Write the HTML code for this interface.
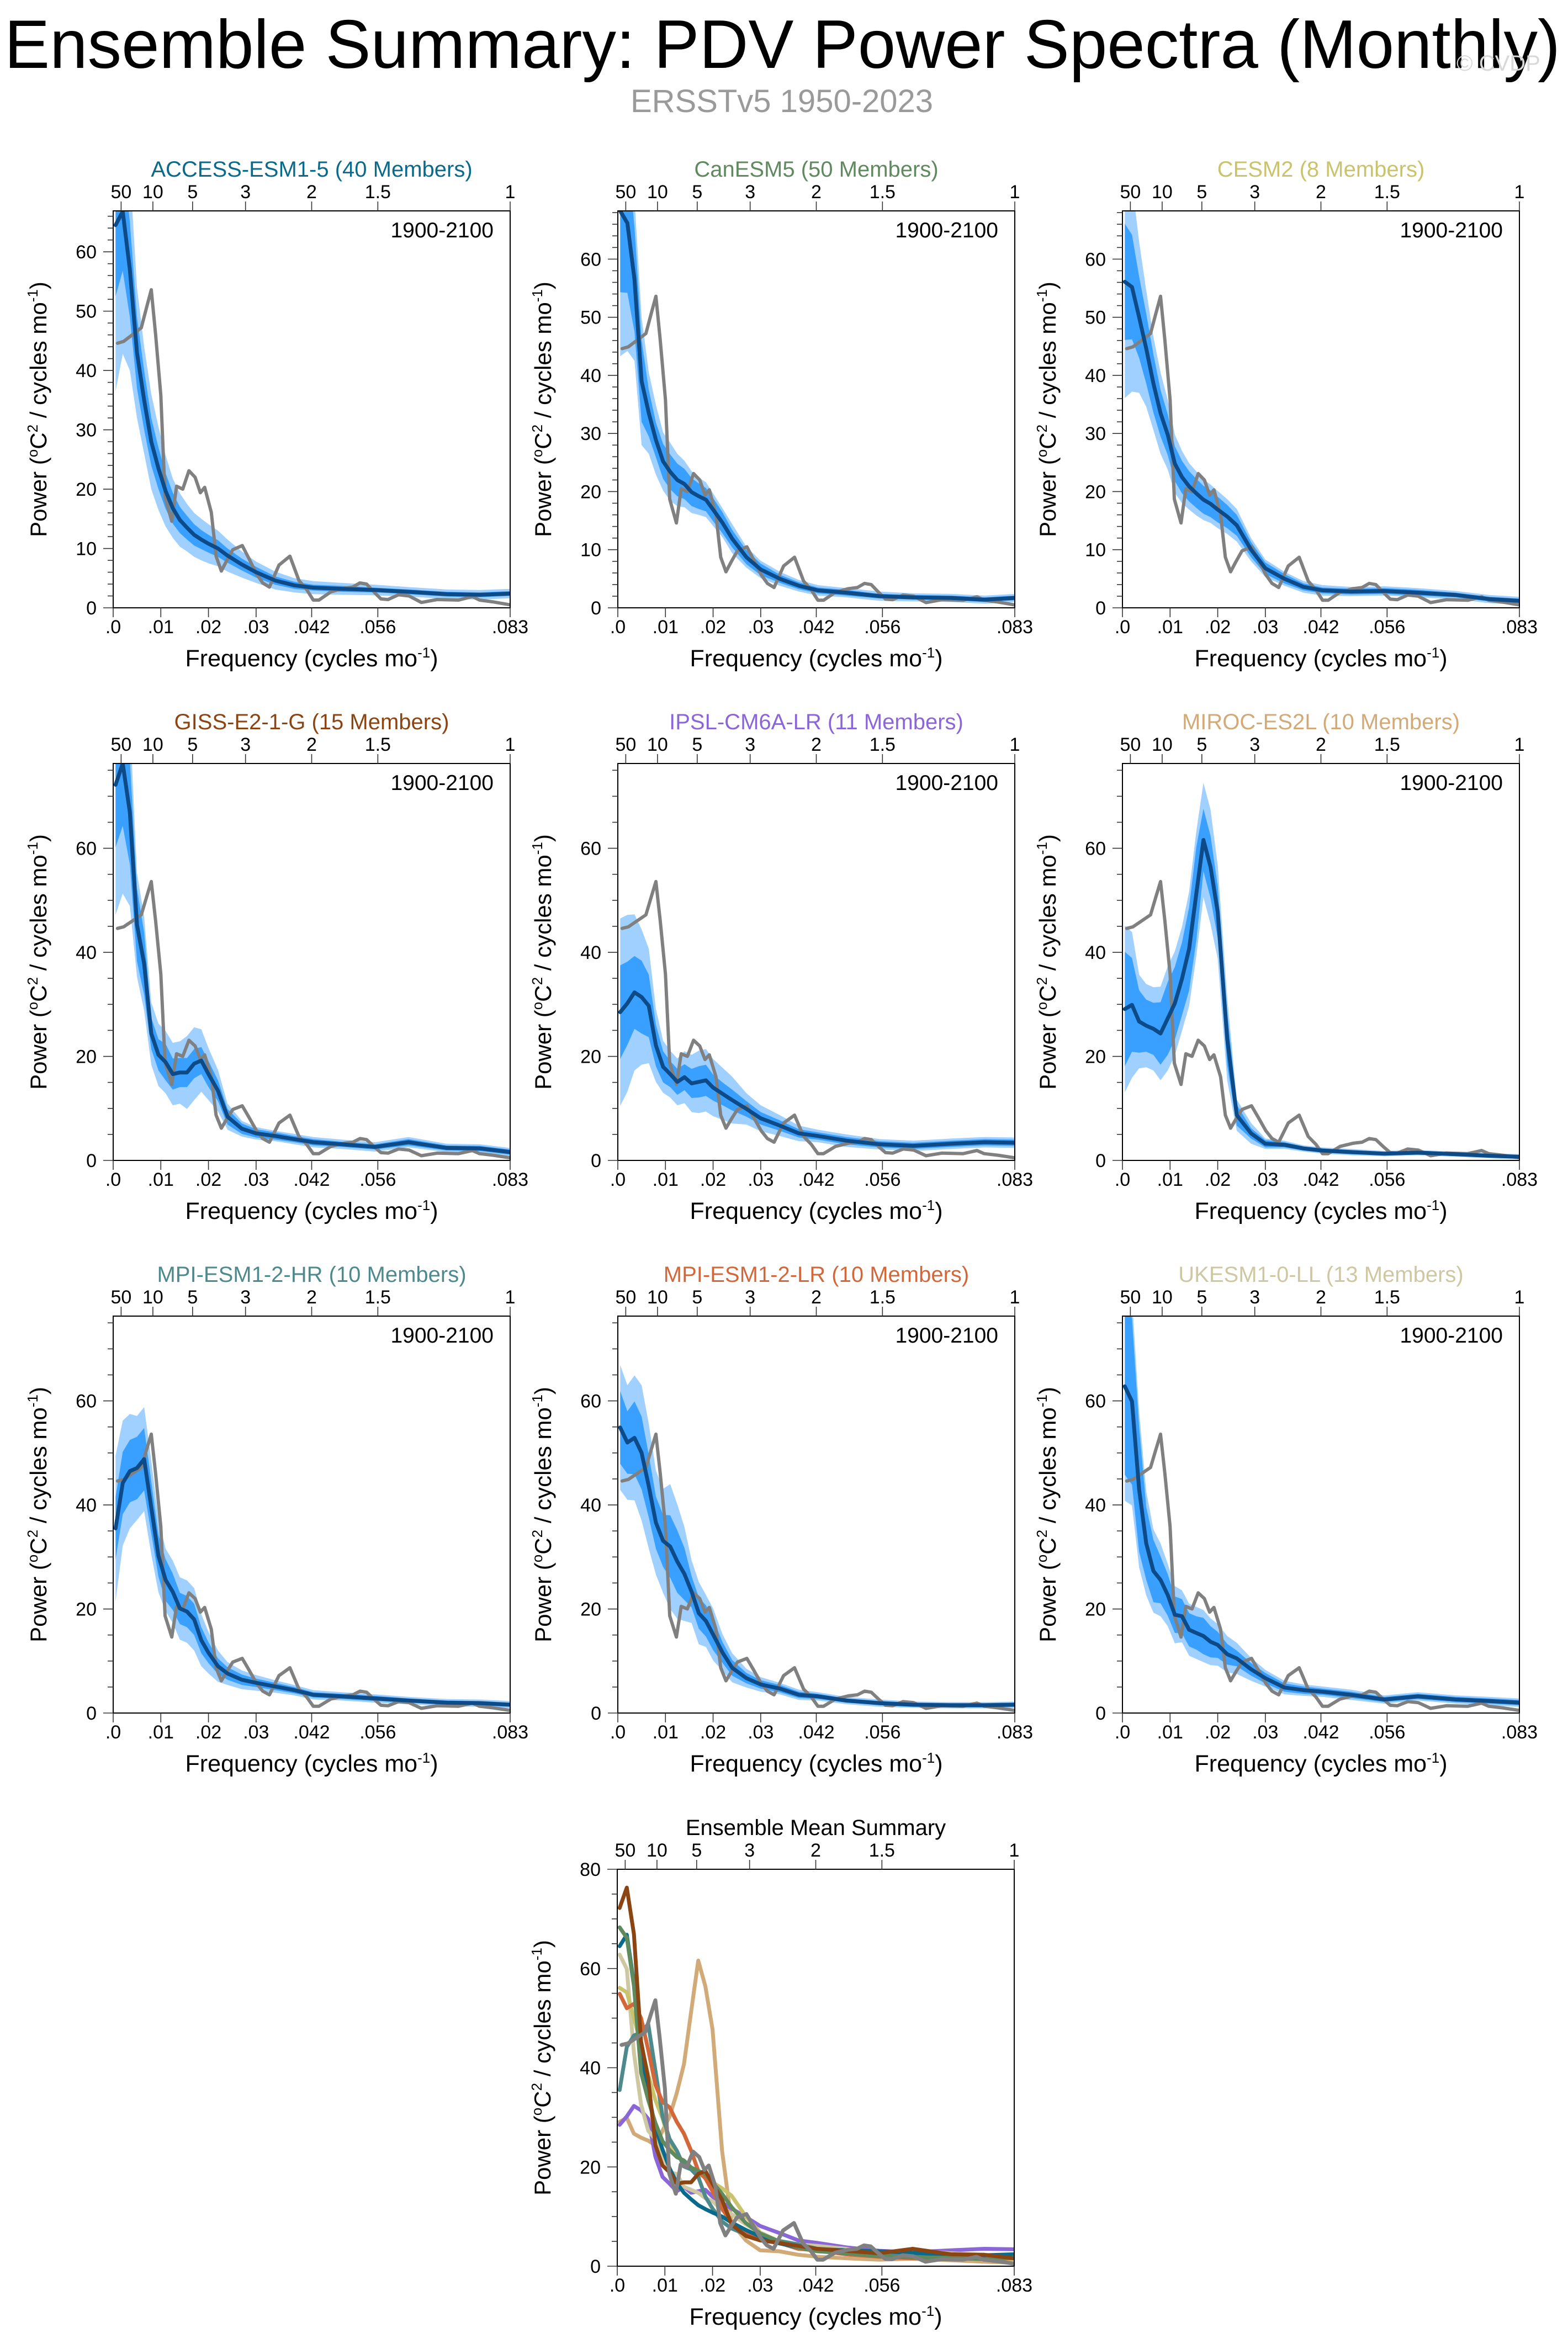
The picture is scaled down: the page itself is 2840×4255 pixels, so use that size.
<!DOCTYPE html>
<html><head><meta charset="utf-8"><title>Ensemble Summary: PDV Power Spectra (Monthly)</title>
<style>
html,body{margin:0;padding:0;background:#fff;}
svg{display:block;font-family:"Liberation Sans",Arial,sans-serif;}
</style></head>
<body>
<svg id="fig" xmlns="http://www.w3.org/2000/svg" width="2840" height="4255" viewBox="0 0 2840 4255">
<rect x="0" y="0" width="2840" height="4255" fill="#fff"/>
<text x="8" y="123" font-size="124" textLength="2818" lengthAdjust="spacingAndGlyphs" fill="#000">Ensemble Summary: PDV Power Spectra (Monthly)</text>
<text x="2714" y="128" font-size="40" text-anchor="middle" fill="#d8d8d8">© CVDP</text>
<text x="1416" y="203" font-size="58" text-anchor="middle" fill="#9a9a9a">ERSSTv5 1950-2023</text>
<g id="panels"></g>
</svg>
<script>
// ---- data ----
const freqGrid=[0.0005,0.002,0.0035,0.005,0.0065,0.008,0.0095,0.011,0.0125,0.014,0.0155,0.017,0.0185,0.02,0.022,0.024,0.027,0.03,0.034,0.038,0.042,0.048,0.055,0.062,0.07,0.077,0.0833];
const obsFreq=[0.0009,0.0022,0.0059,0.0070,0.0080,0.0089,0.0100,0.0109,0.0123,0.0133,0.0146,0.0159,0.0172,0.0183,0.0192,0.0206,0.0216,0.0227,0.0238,0.0251,0.0271,0.0285,0.0301,0.0314,0.0328,0.0348,0.0371,0.0390,0.0406,0.0420,0.0432,0.0457,0.0484,0.0503,0.0518,0.0532,0.0547,0.0562,0.0577,0.0599,0.0621,0.0647,0.0680,0.0725,0.0754,0.0769,0.0798,0.0833];
const obsPower=[44.6,44.9,47.2,50.6,53.6,46.1,35.8,18.7,14.6,20.5,20.0,23.1,22.0,19.4,20.3,16.1,8.7,6.2,7.9,9.8,10.5,8.3,5.7,4.2,3.5,7.2,8.7,4.6,3.1,1.3,1.3,2.7,3.3,3.5,4.2,4.0,2.7,1.5,1.4,2.2,2.0,0.9,1.4,1.3,1.9,1.3,1.0,0.5];

const accessMean=[64.5,66.8,57,43,35,28,23.5,19.7,16.8,14.8,13.5,12.3,11.5,10.8,10,8.8,7.3,6,4.6,3.8,3.4,3.2,3.0,2.7,2.3,2.2,2.4];
const accessInner=[12,10,8,6,5,4,3.5,3,2.6,2.2,2,1.8,1.6,1.5,1.4,1.2,1,0.9,0.7,0.6,0.5,0.5,0.4,0.4,0.4,0.4,0.4];
const accessOuter=[28,24,17,11,9,8,7,6,5,4.5,4,3.7,3.5,3.3,3,2.7,2.2,1.8,1.5,1.2,1.1,1,0.9,0.8,0.8,0.8,0.8];

const canMean=[68.3,66.2,56.5,39,33.5,28.9,25.2,23.4,22,21.3,19.9,19.2,18.6,16.9,14.6,11.9,8.7,6.6,5,3.8,3,2.6,2,1.8,1.7,1.4,1.7];
const canInner=[14,12,9,7,4,3,3,3,2.8,2.6,2.4,2.2,2,2,1.8,1.5,1.2,1,0.7,0.6,0.5,0.5,0.4,0.4,0.4,0.4,0.4];
const canOuter=[25,22,14,11,7,6,5,5,4.5,4,3.6,3.2,3,2.8,2.5,2.5,1.8,1.5,1.2,1,0.9,0.8,0.8,0.7,0.7,0.7,0.7];

const cesmMean=[56.1,55.2,50,44.6,38.6,33.5,29.8,24.8,22.5,20.9,19.7,18.6,17.9,16.9,15.7,14.2,10,6.8,5,3.6,3,2.8,2.9,2.6,2.2,1.5,1.2];
const cesmInner=[10,9,7,6,5,4,3.5,3,2.8,2.6,2.5,2.4,2.3,2.2,2,1.8,1.3,1,0.8,0.6,0.5,0.5,0.5,0.5,0.4,0.4,0.4];
const cesmOuter=[20,18,13,10,8,7,6,5,4.5,4,3.8,3.5,3.3,3.2,3,2.8,2,1.5,1.2,1,0.9,0.8,0.8,0.8,0.7,0.7,0.7];

const gissMean=[72.2,76.3,66.9,45.3,37.8,24.4,20.3,18.9,16.6,16.9,16.9,18.6,19.2,16.6,13.4,8.4,6.1,5.2,4.7,4.1,3.5,3.1,2.6,3.5,2.4,2.3,1.6];
const gissInner=[12,12,10,7,6,3,3,3.5,3,2.8,2.8,2.8,2.6,2.5,2,1.5,1,0.8,0.7,0.6,0.6,0.5,0.5,0.6,0.5,0.5,0.5];
const gissOuter=[25,25,18,10,9,6,6,6,6,6,7,7,6,5,4,2.5,1.5,1.2,1,1,1,0.9,0.9,1,0.8,0.8,0.8];

const ipslMean=[28.5,30.2,32.3,31.4,29.7,22.1,18,16.6,15.1,16,14.8,15.1,15.4,14,12.8,11.6,9.9,8.1,6.7,5.2,4.7,3.8,3.1,2.8,3.2,3.5,3.4];
const ipslInner=[9,8,7,7,6,4,3,2.5,2.5,2.5,2.8,3,3,2.5,2.2,2,1.5,1.2,1,0.8,0.7,0.7,0.6,0.6,0.6,0.6,0.6];
const ipslOuter=[18,17,15,13,11,7,5,4.5,4.5,5,5.5,6,6,5.5,5,4.5,3,2.5,2,1.5,1.2,1.2,1,1,1,1,1];

const mirocMean=[29.1,29.9,26.7,25.9,25.3,24.4,27.3,30.2,34.9,40.7,51.2,61.6,56.4,47.7,23.3,8.7,5.2,3.2,3,2.3,1.9,1.6,1.3,1.5,1.2,0.9,0.7];
const mirocInner=[11,9,6,5,5,6,7,7,7,8,9,6,6,5,5,2,1,0.7,0.5,0.4,0.4,0.4,0.3,0.4,0.3,0.3,0.3];
const mirocOuter=[16,14,9,8,8,9,10,10,10,11,12,11,11,9,8,3,2,1,0.8,0.6,0.6,0.6,0.5,0.5,0.5,0.5,0.5];

const mpihrMean=[35.5,44.2,46.5,47.1,48.8,39.5,30.2,25.6,23.3,20.1,19.5,18,14,11.6,9,7.6,6.4,5.8,5.1,4.4,3.5,3.2,2.8,2.4,2,1.9,1.6];
const mpihrInner=[6,6,6,6,6,5,4,4,3.5,3,3,3,2.5,2,1.5,1.2,1,0.8,0.7,0.6,0.5,0.5,0.5,0.4,0.4,0.4,0.4];
const mpihrOuter=[14,12,11,10,10,9,7,6,6,6,6,6,5,4,3,2.2,1.8,1.5,1.2,1,0.9,0.8,0.8,0.7,0.7,0.7,0.7];

const mpilrMean=[54.9,52,52.9,50,43.6,36.6,33.1,32,29.1,26.7,23.3,19.2,17.7,15.1,11.6,8.7,6.7,5.5,4.7,3.5,3.2,2.4,1.9,1.6,1.5,1.5,1.6];
const mpilrInner=[7,6,7,7,6,5,5,6,6,5,3,3,3,3,2,1.5,1,0.8,0.7,0.6,0.5,0.4,0.4,0.4,0.4,0.4,0.4];
const mpilrOuter=[12,11,12,13,12,10,10,12,11,9,6,6,5,5,3.5,2.8,1.8,1.4,1.1,1,0.8,0.7,0.7,0.6,0.6,0.6,0.6];

const ukesmMean=[62.8,59.9,43,32.6,27.3,25.6,22.7,18.9,18.6,16,15.4,14.8,13.7,13.1,11.3,10.5,8.4,6.7,4.9,4.4,4.1,3.5,2.6,3.2,2.6,2.3,2.0];
const ukesmInner=[17,16,12,7,6,4.5,4,3.5,3.3,3.2,3.2,3.5,3,2.5,2,1.5,1.2,1,0.8,0.7,0.6,0.6,0.5,0.5,0.5,0.5,0.5];
const ukesmOuter=[22,20,15,10,8,7,6,5.5,5,5,5,5,4.5,4,3.5,3,2.2,1.6,1.3,1.1,1,1,0.8,0.8,0.8,0.8,0.8];

const bottomTickValues=[0,0.01,0.02,0.03,1/24,1/18,1/12];
const bottomTickLabels=[".0",".01",".02",".03",".042",".056",".083"];
const periodYears=[50,10,5,3,2,1.5,1];
const periodLabels=["50","10","5","3","2","1.5","1"];

// ---- drawing ----
const NS="http://www.w3.org/2000/svg";
const root=document.getElementById('panels');
const FMAX=1/12, W=719, H=719;
function mk(tag,attrs,parent){const e=document.createElementNS(NS,tag);for(const k in attrs)e.setAttribute(k,attrs[k]);(parent||root).appendChild(e);return e;}
let clipId=0;

function panel(p){
  const g=mk('g',{});
  
  
  const x0=p.x,y0=p.y;
  const X=f=>x0+f/FMAX*W;
  const Y=v=>y0+H-v/p.ymax*H;
  const cid='clip'+(clipId++);
  const cp=mk('clipPath',{id:cid},g);mk('rect',{x:x0,y:y0,width:W,height:H},cp);
  const plot=mk('g',{'clip-path':'url(#'+cid+')'},g);
  
  
  if(p.mean&&!p.series){
    const band=(hw,color,nm)=>{
      let up=[],lo=[];
      for(let i=0;i<freqGrid.length;i++){up.push(X(freqGrid[i]).toFixed(1)+','+Y(p.mean[i]+hw[i]).toFixed(1));lo.push(X(freqGrid[i]).toFixed(1)+','+Y(Math.max(0,p.mean[i]-hw[i])).toFixed(1));}
      const pg=mk('polygon',{points:up.concat(lo.reverse()).join(' '),fill:color},plot);
      
      
    };
    band(p.outer,'#9fd0ff',p.name+'-outer-band');
    band(p.inner,'#3aa0ff',p.name+'-inner-band');
    const ob=mk('polyline',{points:obsFreq.map((f,i)=>X(f).toFixed(1)+','+Y(obsPower[i]).toFixed(1)).join(' '),fill:'none',stroke:'#808080','stroke-width':6,'stroke-linejoin':'round','stroke-linecap':'round'},plot);
    
    
    const ml=mk('polyline',{points:freqGrid.map((f,i)=>X(f).toFixed(1)+','+Y(p.mean[i]).toFixed(1)).join(' '),fill:'none',stroke:'#0c4a88','stroke-width':7,'stroke-linejoin':'round','stroke-linecap':'round'},plot);
    
    
  }
  if(p.series){
    p.series.forEach(s=>{
      const l=mk('polyline',{points:freqGrid.map((f,i)=>X(f).toFixed(1)+','+Y(s.mean[i]).toFixed(1)).join(' '),fill:'none',stroke:s.color,'stroke-width':7,'stroke-linejoin':'round','stroke-linecap':'round'},plot);
      
      
    });
    const ob=mk('polyline',{points:obsFreq.map((f,i)=>X(f).toFixed(1)+','+Y(obsPower[i]).toFixed(1)).join(' '),fill:'none',stroke:'#808080','stroke-width':7,'stroke-linejoin':'round','stroke-linecap':'round'},plot);
    
    
  }
  // frame
  const fr=mk('rect',{x:x0,y:y0,width:W,height:H,fill:'none',stroke:'#000','stroke-width':2},g);
  
  
  // y ticks
  for(let v=0;v<=p.ymax+1e-6;v+=p.minor){
    const isMaj=Math.abs(v/p.major-Math.round(v/p.major))<1e-6;
    mk('line',{x1:x0,x2:x0-(isMaj?18:10),y1:Y(v),y2:Y(v),stroke:'#333','stroke-width':1.6},g);
    if(isMaj){const t=mk('text',{x:x0-30,y:Y(v)+12,'font-size':34,'text-anchor':'end',fill:'#000'},g);t.textContent=String(Math.round(v));
      
      }
  }
  // bottom ticks
  bottomTickValues.forEach((f,i)=>{
    mk('line',{x1:X(f),x2:X(f),y1:y0+H,y2:y0+H+17,stroke:'#333','stroke-width':1.6},g);
    const t=mk('text',{x:X(f),y:y0+H+46,'font-size':34,'text-anchor':'middle',fill:'#000'},g);t.textContent=bottomTickLabels[i];
    
    
  });
  // top ticks
  periodYears.forEach((yr,i)=>{
    const f=1/(yr*12);
    mk('line',{x1:X(f),x2:X(f),y1:y0,y2:y0-17,stroke:'#333','stroke-width':1.6},g);
    const t=mk('text',{x:X(f),y:y0-23,'font-size':34,'text-anchor':'middle',fill:'#000'},g);t.textContent=periodLabels[i];
    
    
  });
  // titles
  const tt=mk('text',{x:x0+W/2,y:y0-62,'font-size':40,'text-anchor':'middle',fill:p.color},g);tt.textContent=p.title;
  
  
  if(p.years){const yt=mk('text',{x:x0+W-30,y:y0+48,'font-size':39,'text-anchor':'end',fill:'#000'},g);yt.textContent='1900-2100';
    
    }
  const xt=mk('text',{x:x0+W/2,y:y0+H+106,'font-size':43,'text-anchor':'middle',fill:'#000'},g);
  xt.innerHTML='Frequency (cycles mo<tspan dy="-16" font-size="26">-1</tspan><tspan dy="16">)</tspan>';
  
  
  const cx=x0-121, cy=y0+H/2;
  const yt2=mk('text',{x:cx,y:cy,'font-size':42,'text-anchor':'middle',fill:'#000',transform:'rotate(-90 '+cx+' '+cy+')'},g);
  yt2.innerHTML='Power (<tspan dy="-16" font-size="26">o</tspan><tspan dy="16">C</tspan><tspan dy="-16" font-size="26">2</tspan><tspan dy="16"> / cycles mo</tspan><tspan dy="-16" font-size="26">-1</tspan><tspan dy="16">)</tspan>';
  
  
}

const C=[205,1119,2033], R=[382,1383,2384];
const models=[
 {name:'access-esm1-5',title:'ACCESS-ESM1-5 (40 Members)',color:'#0a6a8c',mean:accessMean,inner:accessInner,outer:accessOuter,ymax:66.9,major:10,minor:2,x:C[0],y:R[0]},
 {name:'canesm5',title:'CanESM5 (50 Members)',color:'#5e8a5e',mean:canMean,inner:canInner,outer:canOuter,ymax:68.3,major:10,minor:2,x:C[1],y:R[0]},
 {name:'cesm2',title:'CESM2 (8 Members)',color:'#c9c46c',mean:cesmMean,inner:cesmInner,outer:cesmOuter,ymax:68.3,major:10,minor:2,x:C[2],y:R[0]},
 {name:'giss-e2-1-g',title:'GISS-E2-1-G (15 Members)',color:'#8b4513',mean:gissMean,inner:gissInner,outer:gissOuter,ymax:76.3,major:20,minor:5,x:C[0],y:R[1]},
 {name:'ipsl-cm6a-lr',title:'IPSL-CM6A-LR (11 Members)',color:'#8a66d8',mean:ipslMean,inner:ipslInner,outer:ipslOuter,ymax:76.3,major:20,minor:5,x:C[1],y:R[1]},
 {name:'miroc-es2l',title:'MIROC-ES2L (10 Members)',color:'#d2aa78',mean:mirocMean,inner:mirocInner,outer:mirocOuter,ymax:76.3,major:20,minor:5,x:C[2],y:R[1]},
 {name:'mpi-esm1-2-hr',title:'MPI-ESM1-2-HR (10 Members)',color:'#4e8a8c',mean:mpihrMean,inner:mpihrInner,outer:mpihrOuter,ymax:76.3,major:20,minor:5,x:C[0],y:R[2]},
 {name:'mpi-esm1-2-lr',title:'MPI-ESM1-2-LR (10 Members)',color:'#d4673a',mean:mpilrMean,inner:mpilrInner,outer:mpilrOuter,ymax:76.3,major:20,minor:5,x:C[1],y:R[2]},
 {name:'ukesm1-0-ll',title:'UKESM1-0-LL (13 Members)',color:'#cdc8a2',mean:ukesmMean,inner:ukesmInner,outer:ukesmOuter,ymax:76.3,major:20,minor:5,x:C[2],y:R[2]}
];
models.forEach(m=>{m.years=true;panel(m);});
panel({name:'ensemble-mean-summary',title:'Ensemble Mean Summary',color:'#000',ymax:80,major:20,minor:5,x:1118,y:3386,years:false,
  series:[models[5],models[4],models[8],models[2],models[6],models[7],models[0],models[1],models[3]].map(m=>({name:m.name,mean:m.mean,color:m.color}))});
</script>
</body></html>
